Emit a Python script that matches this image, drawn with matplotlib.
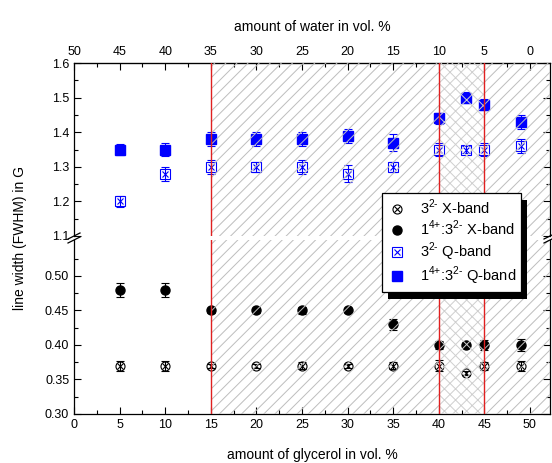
import matplotlib
matplotlib.use("Agg")
import matplotlib.pyplot as plt
from matplotlib.patches import Rectangle
from matplotlib.lines import Line2D
from matplotlib.legend_handler import HandlerTuple
import numpy as np

plt.rcParams['font.family'] = ['Liberation Sans', 'DejaVu Sans']
plt.rcParams['hatch.linewidth'] = 0.7
plt.rcParams['mathtext.fontset'] = 'custom'
plt.rcParams['mathtext.rm'] = 'Liberation Sans'

glycerol = [5, 10, 15, 20, 25, 30, 35, 40, 43, 45, 49]
x_free = [0.37, 0.37, 0.37, 0.37, 0.37, 0.37, 0.37, 0.37, 0.36, 0.37, 0.37]
x_free_err = [0.007, 0.007, 0.003, 0.003, 0.005, 0.003, 0.005, 0.008, 0.003, 0.006, 0.007]
x_complex = [0.48, 0.48, 0.45, 0.45, 0.45, 0.45, 0.43, 0.40, 0.40, 0.40, 0.40]
x_complex_err = [0.01, 0.01, 0.003, 0.003, 0.005, 0.003, 0.008, 0.006, 0.003, 0.007, 0.009]
q_free = [1.20, 1.28, 1.30, 1.30, 1.30, 1.28, 1.30, 1.35, 1.35, 1.35, 1.36]
q_free_err = [0.015, 0.02, 0.02, 0.015, 0.02, 0.025, 0.015, 0.02, 0.01, 0.02, 0.02]
q_complex = [1.35, 1.35, 1.38, 1.38, 1.38, 1.39, 1.37, 1.44, 1.50, 1.48, 1.43]
q_complex_err = [0.015, 0.02, 0.02, 0.02, 0.02, 0.02, 0.025, 0.015, 0.015, 0.015, 0.02]
water_ticks = [50, 45, 40, 35, 30, 25, 20, 15, 10, 5, 0]
legend_labels = [r'3$^{2\text{-}}$ X-band', r'1$^{4\text{+}}$:3$^{2\text{-}}$ X-band',
                 r'3$^{2\text{-}}$ Q-band', r'1$^{4\text{+}}$:3$^{2\text{-}}$ Q-band']

W, H = 552, 463
fig = plt.figure(figsize=(W / 100, H / 100), dpi=100)
L, R = 74, 550
ax_t = fig.add_axes([L / W, 1 - 236 / H, (R - L) / W, 173 / H])
ax_b = fig.add_axes([L / W, 1 - 414 / H, (R - L) / W, 174 / H])

XMAX = 52.2
for ax in (ax_t, ax_b):
    ax.set_xlim(0, XMAX)
    ax.axvspan(15, 40, facecolor='none', edgecolor='#bdbdbd', hatch='///', linewidth=0, zorder=3)
    ax.axvspan(45, XMAX, facecolor='none', edgecolor='#bdbdbd', hatch='///', linewidth=0, zorder=3)
    ax.axvspan(40, 45, facecolor='none', edgecolor='#cfcfcf', hatch='xxx', linewidth=0, zorder=3)
    for xv in (15, 40, 45):
        ax.axvline(xv, color='#e02020', lw=1.0, zorder=4)
    ax.tick_params(which='both', direction='in', top=False, right=True, labelsize=9, width=0.8)
    ax.tick_params(which='major', length=5)
    ax.tick_params(which='minor', length=3)
    for s in ax.spines.values():
        s.set_linewidth(0.9)

ms = 6.5
# Q-band (top)
ax_t.set_ylim(1.1, 1.6)
ax_t.errorbar(glycerol, q_complex, yerr=q_complex_err, fmt='s', color='#0000ff', ms=ms,
              capsize=3, elinewidth=0.8, capthick=0.8, zorder=2)
ax_t.errorbar(glycerol, q_free, yerr=q_free_err, fmt='s', color='#0000ff', mfc='none', ms=ms,
              capsize=3, elinewidth=0.8, capthick=0.8, mew=0.8, zorder=2)
ax_t.plot(glycerol, q_free, 'x', color='#0000ff', ms=ms * 0.75, mew=0.8, zorder=2)
# X-band (bottom)
ax_b.set_ylim(0.30, 0.552)
ax_b.errorbar(glycerol, x_complex, yerr=x_complex_err, fmt='o', color='black', ms=ms,
              capsize=3, elinewidth=0.8, capthick=0.8, zorder=2)
ax_b.errorbar(glycerol, x_free, yerr=x_free_err, fmt='o', color='black', mfc='none', ms=ms,
              capsize=3, elinewidth=0.8, capthick=0.8, mew=0.8, zorder=2)
ax_b.plot(glycerol, x_free, 'x', color='black', ms=ms * 0.7, mew=0.8, zorder=2)

ax_t.spines['bottom'].set_visible(False)
ax_b.spines['top'].set_visible(False)
ax_t.tick_params(axis='x', which='both', bottom=False, labelbottom=False)
ax_t.set_yticks(np.arange(1.1, 1.61, 0.1))
ax_t.set_yticks(np.arange(1.15, 1.6, 0.1), minor=True)
ax_t.set_yticklabels([f'{v:.1f}' for v in np.arange(1.1, 1.61, 0.1)])
ax_b.set_yticks(np.arange(0.30, 0.51, 0.05))
ax_b.set_yticks(np.arange(0.325, 0.55, 0.05), minor=True)
ax_b.set_yticklabels([f'{v:.2f}' for v in np.arange(0.30, 0.51, 0.05)])
ax_b.set_xticks(np.arange(0, 51, 5))
ax_b.set_xticks(np.arange(2.5, 52, 5), minor=True)
ax_b.set_xlabel('amount of glycerol in vol. %', fontsize=10, labelpad=12)

sec = ax_t.secondary_xaxis('top', functions=(lambda x: 50 - x, lambda x: 50 - x))
sec.set_xticks(water_ticks)
sec.set_xticks(np.arange(2.5, 50, 5), minor=True)
sec.tick_params(which='both', direction='in', labelsize=9, width=0.8)
sec.tick_params(which='major', length=5)
sec.tick_params(which='minor', length=3)
sec.set_xlabel('amount of water in vol. %', fontsize=10, labelpad=11)

fig.text(20 / W, 1 - 238 / H, 'line width (FWHM) in G', rotation=90, fontsize=10,
         ha='center', va='center')

# break marks
for xp in (L, R):
    for dy in (-2, 2):
        fig.add_artist(Line2D([(xp - 6) / W, (xp + 6) / W],
                              [1 - (238 + dy + 3) / H, 1 - (238 + dy - 3) / H],
                              color='black', lw=0.9))

# legend
h1 = (Line2D([], [], ls='none', marker='o', mfc='none', mec='black', ms=ms, mew=0.8),
      Line2D([], [], ls='none', marker='x', color='black', ms=ms * 0.7, mew=0.8))
h2 = Line2D([], [], ls='none', marker='o', color='black', ms=ms)
h3 = (Line2D([], [], ls='none', marker='s', mfc='none', mec='#0000ff', ms=ms, mew=0.8),
      Line2D([], [], ls='none', marker='x', color='#0000ff', ms=ms * 0.75, mew=0.8))
h4 = Line2D([], [], ls='none', marker='s', color='#0000ff', ms=ms)
leg = fig.legend([h1, h2, h3, h4], legend_labels, loc='upper left',
                 bbox_to_anchor=(382 / W, 1 - 193 / H), borderaxespad=0,
                 handler_map={tuple: HandlerTuple(ndivide=1, pad=0)},
                 fontsize=10.5, fancybox=False, framealpha=1, edgecolor='black',
                 handlelength=1.5, handletextpad=0.8, labelspacing=0.15, borderpad=0.3)
leg.get_frame().set_linewidth(0.9)
leg.set_zorder(10)
fig.canvas.draw()
bb = leg.get_window_extent().transformed(fig.transFigure.inverted())
fig.add_artist(Rectangle((bb.x0 + 6 / W, bb.y0 - 7 / H), bb.width, bb.height,
                         transform=fig.transFigure, facecolor='black', edgecolor='none', zorder=9))

fig.savefig('out.png', dpi=100)
